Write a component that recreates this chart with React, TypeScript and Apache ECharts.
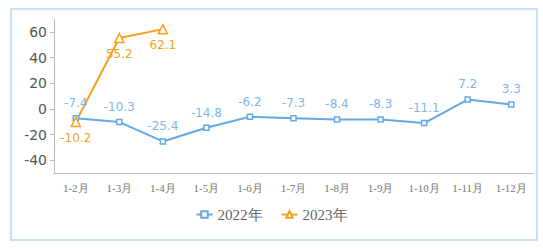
import React, { useEffect, useRef } from "react";
import * as echarts from "echarts";

const categories = ["1-2月", "1-3月", "1-4月", "1-5月", "1-6月", "1-7月", "1-8月", "1-9月", "1-10月", "1-11月", "1-12月"];
const series2022 = [-7.4, -10.3, -25.4, -14.8, -6.2, -7.3, -8.4, -8.3, -11.1, 7.2, 3.3];
const series2023 = [-10.2, 55.2, 62.1];
const yTicks = [-40, -20, 0, 20, 40, 60];
const seriesNames = ["2022年", "2023年"];

const BLUE = "#62a9e6";
const BLUE_LABEL = "#7db7e8";
const ORANGE = "#f5a11c";
const SERIF = "'Liberation Serif', 'DejaVu Serif', serif";
const SANS = "'DejaVu Sans', Verdana, sans-serif";

export default function App() {
  const ref = useRef<HTMLDivElement>(null);
  useEffect(() => {
    if (!ref.current) return;
    const chart = echarts.init(ref.current, null, { renderer: "svg" });
    const legendText = { fontFamily: SERIF, fontSize: 15, color: "#666" };
    chart.setOption({
      animation: false,
      backgroundColor: "#ffffff",
      graphic: [
        {
          type: "rect",
          shape: { x: 11, y: 9, width: 526, height: 231 },
          style: { fill: "none", stroke: "#b5d6f2", lineWidth: 1.5 },
          silent: true,
        },
      ],
      grid: { left: 54, right: 10, top: 19, bottom: 75 },
      legend: {
        data: seriesNames.map((n) => ({ name: n, textStyle: legendText })),
        bottom: 21,
        left: "center",
        itemWidth: 16,
        itemHeight: 8,
        itemGap: 18,
        textStyle: legendText,
      },
      xAxis: {
        type: "category",
        data: categories,
        boundaryGap: true,
        axisLine: { onZero: false, lineStyle: { color: "#bbb" } },
        axisTick: { show: false },
        axisLabel: {
          fontFamily: SERIF,
          fontSize: 11,
          color: "#777",
          margin: 9,
          interval: 0,
        },
      },
      yAxis: {
        type: "value",
        min: -50,
        max: 70,
        interval: 10,
        axisLine: { show: true, lineStyle: { color: "#bbb" } },
        axisTick: { show: true, customValues: yTicks, length: 4, lineStyle: { color: "#bbb" } },
        axisLabel: {
          customValues: yTicks,
          fontFamily: SANS,
          fontSize: 14,
          color: "#555",
          margin: 7,
        },
        splitLine: { show: false },
      },
      series: [
        {
          name: seriesNames[0],
          type: "line",
          data: series2022,
          symbol: "rect",
          symbolSize: 5,
          itemStyle: { color: "#fff", borderColor: BLUE, borderWidth: 1.5 },
          lineStyle: { color: BLUE, width: 2 },
          label: {
            show: true,
            position: "top",
            distance: 6,
            color: BLUE_LABEL,
            fontFamily: SANS,
            fontSize: 12,
          },
        },
        {
          name: seriesNames[1],
          type: "line",
          data: series2023,
          symbol: "triangle",
          symbolSize: 9,
          itemStyle: { color: "#fff", borderColor: ORANGE, borderWidth: 1.5 },
          lineStyle: { color: ORANGE, width: 2 },
          label: {
            show: true,
            position: "bottom",
            distance: 5,
            color: ORANGE,
            fontFamily: SANS,
            fontSize: 12,
          },
        },
      ],
    });
    return () => chart.dispose();
  }, []);
  return (
    <div
      ref={ref}
      style={{ position: "fixed", left: 0, top: 0, width: 543, height: 248 }}
    />
  );
}
